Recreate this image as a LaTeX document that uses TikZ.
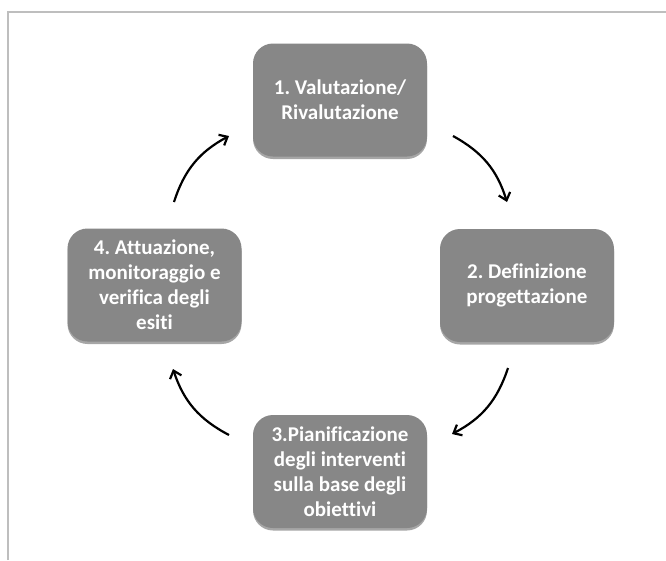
\documentclass[tikz,border=0pt]{standalone}
\usepackage{fontspec}
\setmainfont{Carlito}[RawFeature={-liga;-clig}]
\usetikzlibrary{arrows.meta,shadows}
\definecolor{boxgray}{HTML}{878787}
\definecolor{framegray}{HTML}{BEBEBE}
\frenchspacing
\begin{document}
\begin{tikzpicture}[x=1pt,y=-1pt,
  stepbox/.style={draw=none,fill=boxgray,rounded corners=20pt,minimum width=174pt,minimum height=113pt,
    text=white,font=\fontsize{21}{25}\selectfont\bfseries,align=center,inner sep=0pt,
    drop shadow={shadow xshift=0pt,shadow yshift=-2.5pt,opacity=0.35,fill=black}},
  cyc/.style={line width=2.2pt,-{Straight Barb[length=7pt,width=12pt,line width=2.2pt]},bend left=22}]
\useasboundingbox (0,0) rectangle (666,560);
\fill[white] (0,0) rectangle (666,560);
\draw[framegray,line width=2pt] (8,560) -- (8,12) -- (666,12);
\node[stepbox] (b1) at (340,100) {1. Valutazione/\\Rivalutazione};
\node[stepbox] (b2) at (527,285.5) {2. Definizione\\progettazione};
\node[stepbox] (b3) at (340,471.5) {3.Pianificazione\\degli interventi\\sulla base degli\\obiettivi};
\node[stepbox] (b4) at (154.5,285) {4. Attuazione,\\monitoraggio e\\verifica degli\\esiti};
\coordinate (a1s) at (453,136); \coordinate (a1e) at (507,202);
\coordinate (a2s) at (508,368); \coordinate (a2e) at (452,434);
\coordinate (a3s) at (229,435); \coordinate (a3e) at (173,369);
\coordinate (a4s) at (174,202); \coordinate (a4e) at (229,136);
\draw[cyc] (a1s) to (a1e);
\draw[cyc] (a2s) to (a2e);
\draw[cyc] (a3s) to (a3e);
\draw[cyc] (a4s) to (a4e);
\end{tikzpicture}
\end{document}
